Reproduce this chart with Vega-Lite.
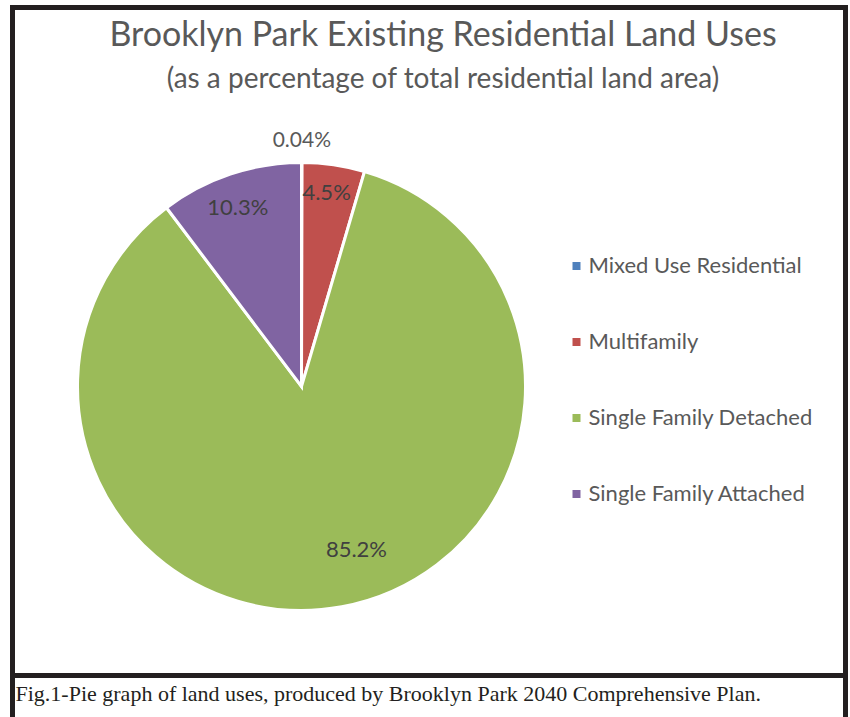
{
  "$schema": "https://vega.github.io/schema/vega-lite/v6.json",
  "background": "white",
  "padding": {"left": 9.5, "top": 4.5, "right": 0, "bottom": 0},
  "spacing": 0,
  "bounds": "flush",
  "config": {
    "view": {"stroke": "#231f20", "strokeWidth": 5},
    "font": "Lato"
  },
  "datasets": {
    "landuse": [
      {"category": "Mixed Use Residential", "share": 0.04, "label": "0.04%", "ord": 1},
      {"category": "Multifamily", "share": 4.5, "label": "4.5%", "ord": 2},
      {"category": "Single Family Detached", "share": 85.2, "label": "85.2%", "ord": 3},
      {"category": "Single Family Attached", "share": 10.3, "label": "10.3%", "ord": 4}
    ]
  },
  "vconcat": [
    {
      "width": 833,
      "height": 668,
      "view": {"stroke": "#231f20", "strokeWidth": 5, "fill": "white"},
      "title": {
        "text": "Brooklyn Park Existing Residential Land Uses",
        "subtitle": "(as a percentage of total residential land area)",
        "anchor": "middle",
        "offset": -86,
        "dx": 14,
        "font": "Lato",
        "fontSize": 34,
        "fontWeight": "normal",
        "color": "#595959",
        "subtitleFont": "Lato",
        "subtitleFontSize": 28,
        "subtitleColor": "#595959",
        "subtitlePadding": 13
      },
      "data": {"name": "landuse"},
      "encoding": {
        "theta": {"field": "share", "type": "quantitative", "stack": true},
        "order": {"field": "ord", "type": "quantitative"}
      },
      "layer": [
        {
          "mark": {"type": "arc", "radius": 224, "stroke": "white", "strokeWidth": 3, "x": 289, "y": 379},
          "encoding": {
            "color": {
              "field": "category",
              "type": "nominal",
              "scale": {
                "domain": ["Mixed Use Residential", "Multifamily", "Single Family Detached", "Single Family Attached"],
                "range": ["#4f81bd", "#c0504d", "#9bbb59", "#8064a2"]
              },
              "legend": {
                "title": null,
                "orient": "none",
                "legendX": 553,
                "legendY": 247.5,
                "symbolType": "square",
                "symbolSize": 64,
                "symbolStrokeWidth": 0,
                "labelFont": "Lato",
                "labelFontSize": 22,
                "labelColor": "#595959",
                "labelOffset": 1,
                "rowPadding": 54,
                "labelLimit": 400
              }
            }
          }
        },
        {
          "mark": {"type": "text", "radius": 196, "dx": -3, "font": "Lato", "fontSize": 22, "color": "#404040", "x": 289, "y": 379},
          "encoding": {
            "text": {"condition": {"test": "datum.category === 'Multifamily'", "field": "label"}, "value": ""}
          }
        },
        {
          "mark": {"type": "text", "radius": 188, "dx": -4, "font": "Lato", "fontSize": 22, "color": "#404040", "x": 289, "y": 379},
          "encoding": {
            "text": {"condition": {"test": "datum.category === 'Single Family Attached'", "field": "label"}, "value": ""}
          }
        },
        {
          "mark": {"type": "text", "radius": 172, "dx": 24, "dy": -6, "font": "Lato", "fontSize": 22, "color": "#404040", "x": 289, "y": 379},
          "encoding": {
            "text": {"condition": {"test": "datum.category === 'Single Family Detached'", "field": "label"}, "value": ""}
          }
        },
        {
          "mark": {"type": "text", "radius": 246, "font": "Lato", "fontSize": 21, "color": "#595959", "x": 289, "y": 379},
          "encoding": {
            "text": {"condition": {"test": "datum.category === 'Mixed Use Residential'", "field": "label"}, "value": ""}
          }
        }
      ]
    },
    {
      "width": 833,
      "height": 44,
      "view": {"stroke": "#231f20", "strokeWidth": 5, "fill": "white"},
      "title": {
        "text": "Fig.1-Pie graph of  land uses, produced by Brooklyn Park 2040 Comprehensive Plan.",
        "anchor": "start",
        "frame": "group",
        "offset": -30.5,
        "dx": 3,
        "font": "Liberation Serif",
        "fontSize": 22,
        "fontWeight": "normal",
        "color": "#231f20"
      },
      "data": {"values": []},
      "mark": {"type": "text"},
      "encoding": {}
    }
  ]
}
